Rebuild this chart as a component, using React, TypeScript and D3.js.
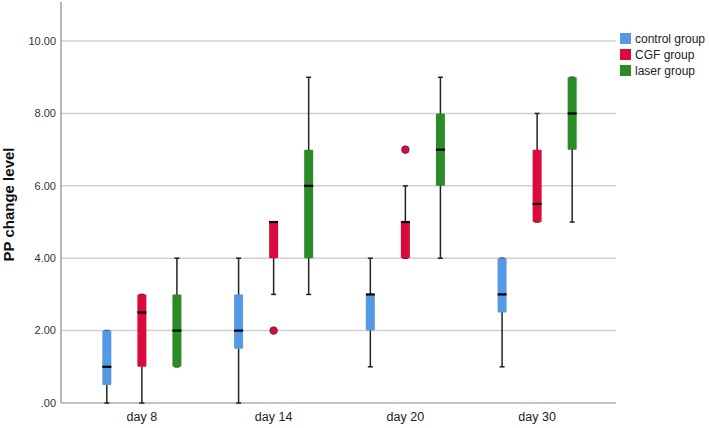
import React from 'react';
import * as d3 from 'd3';

const width = 709;
const height = 428;
const margin = { top: 2, right: 93, bottom: 25, left: 61 };

const days = ['day 8', 'day 14', 'day 20', 'day 30'];
const groups = ['control group', 'CGF group', 'laser group'];
const colors = ['#5598e4', '#db0a3c', '#2b8b26'];
const yTicks = [0, 2, 4, 6, 8, 10];

// [whiskerLow, q1, median, q3, whiskerHigh] per day
const control = [
  [0, 0.5, 1, 2, 2],
  [0, 1.5, 2, 3, 4],
  [1, 2, 3, 3, 4],
  [1, 2.5, 3, 4, 4]
];
const cgf = [
  [0, 1, 2.5, 3, 3],
  [3, 4, 5, 5, 5],
  [4, 4, 5, 5, 6],
  [5, 5, 5.5, 7, 8]
];
const laser = [
  [1, 1, 2, 3, 4],
  [3, 4, 6, 7, 9],
  [4, 6, 7, 8, 9],
  [5, 7, 8, 9, 9]
];
const cgfOutliers = [[], [2], [7], []];

const series = [control, cgf, laser];
const outliers = [[[], [], [], []], cgfOutliers, [[], [], [], []]];

export default function App() {
  const x = d3
    .scaleBand()
    .domain(days)
    .range([76, 603]);
  const inner = d3
    .scaleBand()
    .domain(groups)
    .range([0, x.bandwidth()])
    .paddingInner(0.3)
    .paddingOuter(0.53);
  const y = d3.scaleLinear().domain([0, 11.08]).range([height - margin.bottom, margin.top]);
  const boxW = 9;
  const x0 = margin.left;
  const x1 = width - margin.right;

  return (
    <svg width={width} height={height} style={{ position: 'absolute', left: 0, top: 0 }}>
      <rect width={width} height={height} fill="#fff" />
      {yTicks.map(t => (
        <g key={t}>
          {t > 0 && <line x1={x0} x2={x1} y1={y(t)} y2={y(t)} stroke="#d0d0d0" strokeWidth={1.5} />}
          <text
            x={x0 - 5}
            y={y(t)}
            dy="0.35em"
            textAnchor="end"
            fontFamily="Liberation Sans, Arial"
            fontSize={11}
            fill="#333"
          >
            {t === 0 ? '.00' : t.toFixed(2)}
          </text>
        </g>
      ))}
      <line x1={x0} x2={x0} y1={margin.top} y2={y(0)} stroke="#888" strokeWidth={1.2} />
      <line x1={x0} x2={x1} y1={y(0)} y2={y(0)} stroke="#888" strokeWidth={1.2} />
      {days.map(d => (
        <text
          key={d}
          x={x(d)! + x.bandwidth() / 2}
          y={y(0) + 18}
          textAnchor="middle"
          fontFamily="Liberation Sans, Arial"
          fontSize={12.5}
          fill="#222"
        >
          {d}
        </text>
      ))}
      <text
        transform={`translate(14,${(margin.top + y(0)) / 2 + 2}) rotate(-90)`}
        textAnchor="middle"
        fontFamily="Liberation Sans, Arial"
        fontWeight="bold"
        fontSize={15}
        fill="#111"
      >
        PP change level
      </text>
      {series.map((s, gi) =>
        s.map((v, di) => {
          const cx = x(days[di])! + inner(groups[gi])! + inner.bandwidth() / 2;
          const [lo, q1, med, q3, hi] = v;
          return (
            <g key={`${gi}-${di}`}>
              <line x1={cx} x2={cx} y1={y(lo)} y2={y(hi)} stroke="#222" strokeWidth={1.5} />
              <line x1={cx - 2.5} x2={cx + 2.5} y1={y(lo)} y2={y(lo)} stroke="#222" strokeWidth={1.5} />
              <line x1={cx - 2.5} x2={cx + 2.5} y1={y(hi)} y2={y(hi)} stroke="#222" strokeWidth={1.5} />
              <rect
                x={cx - boxW / 2}
                y={y(q3)}
                width={boxW}
                height={Math.max(y(q1) - y(q3), 0)}
                rx={1}
                fill={colors[gi]}
              />
              <line
                x1={cx - boxW / 2}
                x2={cx + boxW / 2}
                y1={y(med)}
                y2={y(med)}
                stroke="#000"
                strokeWidth={2.2}
              />
              {outliers[gi][di].map((o, oi) => (
                <circle key={oi} cx={cx} cy={y(o)} r={3.8} fill={colors[gi]} stroke="#333" strokeWidth={0.8} />
              ))}
            </g>
          );
        })
      )}
      {groups.map((g, i) => (
        <g key={g} transform={`translate(620,${33 + i * 16})`}>
          <rect width={11} height={11} fill={colors[i]} />
          <text x={15} y={9.5} fontFamily="Liberation Sans, Arial" fontSize={12} fill="#222">
            {g}
          </text>
        </g>
      ))}
    </svg>
  );
}
